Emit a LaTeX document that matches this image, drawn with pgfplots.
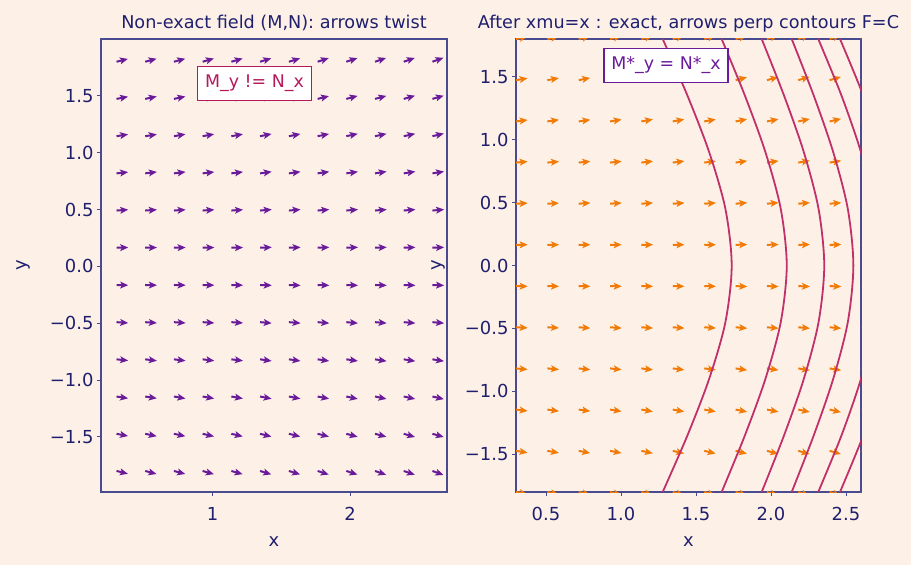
\documentclass[border=0pt]{standalone}
\usepackage{pgfplots}
\pgfplotsset{compat=1.18}
\usepackage{pgfplotstable}
\usepackage{fontspec}
\setmainfont{DejaVu Sans}
\usetikzlibrary{arrows.meta}

\definecolor{bgc}{HTML}{FDF1E7}
\definecolor{axc}{HTML}{4A4A90}
\definecolor{txc}{HTML}{1F1F6E}
\definecolor{arrL}{HTML}{6A1B9A}
\definecolor{arrR}{HTML}{F27B08}
\definecolor{cont}{HTML}{C0306A}
\definecolor{boxL}{HTML}{B5195B}
\definecolor{boxR}{HTML}{6A1B9A}

% direction field of (M,N): grid point and screen angle of the arrow (degrees)
\pgfplotstableread[row sep=\\]{
x y a\\
0.300 1.800 14\\ 0.509 1.800 15\\ 0.718 1.800 15\\ 0.927 1.800 16\\ 1.136 1.800 16\\ 1.345 1.800 17\\
1.555 1.800 17\\ 1.764 1.800 18\\ 1.973 1.800 18\\ 2.182 1.800 19\\ 2.391 1.800 19\\ 2.600 1.800 20\\
0.300 1.473 11\\ 0.509 1.473 12\\ 0.718 1.473 12\\ 0.927 1.473 13\\ 1.136 1.473 13\\ 1.345 1.473 14\\
1.555 1.473 14\\ 1.764 1.473 14\\ 1.973 1.473 15\\ 2.182 1.473 15\\ 2.391 1.473 16\\ 2.600 1.473 16\\
0.300 1.145 9\\ 0.509 1.145 9\\ 0.718 1.145 10\\ 0.927 1.145 10\\ 1.136 1.145 10\\ 1.345 1.145 11\\
1.555 1.145 11\\ 1.764 1.145 11\\ 1.973 1.145 12\\ 2.182 1.145 12\\ 2.391 1.145 12\\ 2.600 1.145 13\\
0.300 0.818 6\\ 0.509 0.818 7\\ 0.718 0.818 7\\ 0.927 0.818 7\\ 1.136 0.818 7\\ 1.345 0.818 8\\
1.555 0.818 8\\ 1.764 0.818 8\\ 1.973 0.818 8\\ 2.182 0.818 9\\ 2.391 0.818 9\\ 2.600 0.818 9\\
0.300 0.491 4\\ 0.509 0.491 4\\ 0.718 0.491 4\\ 0.927 0.491 4\\ 1.136 0.491 4\\ 1.345 0.491 5\\
1.555 0.491 5\\ 1.764 0.491 5\\ 1.973 0.491 5\\ 2.182 0.491 5\\ 2.391 0.491 5\\ 2.600 0.491 5\\
0.300 0.164 1\\ 0.509 0.164 1\\ 0.718 0.164 1\\ 0.927 0.164 1\\ 1.136 0.164 1\\ 1.345 0.164 2\\
1.555 0.164 2\\ 1.764 0.164 2\\ 1.973 0.164 2\\ 2.182 0.164 2\\ 2.391 0.164 2\\ 2.600 0.164 2\\
0.300 -0.164 -1\\ 0.509 -0.164 -1\\ 0.718 -0.164 -1\\ 0.927 -0.164 -1\\ 1.136 -0.164 -1\\ 1.345 -0.164 -2\\
1.555 -0.164 -2\\ 1.764 -0.164 -2\\ 1.973 -0.164 -2\\ 2.182 -0.164 -2\\ 2.391 -0.164 -2\\ 2.600 -0.164 -2\\
0.300 -0.491 -4\\ 0.509 -0.491 -4\\ 0.718 -0.491 -4\\ 0.927 -0.491 -4\\ 1.136 -0.491 -4\\ 1.345 -0.491 -5\\
1.555 -0.491 -5\\ 1.764 -0.491 -5\\ 1.973 -0.491 -5\\ 2.182 -0.491 -5\\ 2.391 -0.491 -5\\ 2.600 -0.491 -5\\
0.300 -0.818 -6\\ 0.509 -0.818 -7\\ 0.718 -0.818 -7\\ 0.927 -0.818 -7\\ 1.136 -0.818 -7\\ 1.345 -0.818 -8\\
1.555 -0.818 -8\\ 1.764 -0.818 -8\\ 1.973 -0.818 -8\\ 2.182 -0.818 -9\\ 2.391 -0.818 -9\\ 2.600 -0.818 -9\\
0.300 -1.145 -9\\ 0.509 -1.145 -9\\ 0.718 -1.145 -10\\ 0.927 -1.145 -10\\ 1.136 -1.145 -10\\ 1.345 -1.145 -11\\
1.555 -1.145 -11\\ 1.764 -1.145 -11\\ 1.973 -1.145 -12\\ 2.182 -1.145 -12\\ 2.391 -1.145 -12\\ 2.600 -1.145 -13\\
0.300 -1.473 -11\\ 0.509 -1.473 -12\\ 0.718 -1.473 -12\\ 0.927 -1.473 -13\\ 1.136 -1.473 -13\\ 1.345 -1.473 -14\\
1.555 -1.473 -14\\ 1.764 -1.473 -14\\ 1.973 -1.473 -15\\ 2.182 -1.473 -15\\ 2.391 -1.473 -16\\ 2.600 -1.473 -16\\
0.300 -1.800 -14\\ 0.509 -1.800 -15\\ 0.718 -1.800 -15\\ 0.927 -1.800 -16\\ 1.136 -1.800 -16\\ 1.345 -1.800 -17\\
1.555 -1.800 -17\\ 1.764 -1.800 -18\\ 1.973 -1.800 -18\\ 2.182 -1.800 -19\\ 2.391 -1.800 -19\\ 2.600 -1.800 -20\\
}\fieldMN

% direction field of (xM,xN)
\pgfplotstableread[row sep=\\]{
x y a\\
0.300 1.800 11\\ 0.509 1.800 12\\ 0.718 1.800 13\\ 0.927 1.800 14\\ 1.136 1.800 15\\ 1.345 1.800 16\\
1.555 1.800 16\\ 1.764 1.800 17\\ 1.973 1.800 18\\ 2.182 1.800 19\\ 2.391 1.800 20\\ 2.600 1.800 21\\
0.300 1.473 9\\ 0.509 1.473 10\\ 0.718 1.473 11\\ 0.927 1.473 11\\ 1.136 1.473 12\\ 1.345 1.473 13\\
1.555 1.473 13\\ 1.764 1.473 14\\ 1.973 1.473 15\\ 2.182 1.473 16\\ 2.391 1.473 16\\ 2.600 1.473 17\\
0.300 1.145 7\\ 0.509 1.145 8\\ 0.718 1.145 8\\ 0.927 1.145 9\\ 1.136 1.145 10\\ 1.345 1.145 10\\
1.555 1.145 10\\ 1.764 1.145 11\\ 1.973 1.145 11\\ 2.182 1.145 12\\ 2.391 1.145 13\\ 2.600 1.145 13\\
0.300 0.818 5\\ 0.509 0.818 5\\ 0.718 0.818 6\\ 0.927 0.818 6\\ 1.136 0.818 7\\ 1.345 0.818 7\\
1.555 0.818 7\\ 1.764 0.818 8\\ 1.973 0.818 8\\ 2.182 0.818 9\\ 2.391 0.818 9\\ 2.600 0.818 10\\
0.300 0.491 3\\ 0.509 0.491 3\\ 0.718 0.491 4\\ 0.927 0.491 4\\ 1.136 0.491 4\\ 1.345 0.491 4\\
1.555 0.491 4\\ 1.764 0.491 5\\ 1.973 0.491 5\\ 2.182 0.491 5\\ 2.391 0.491 5\\ 2.600 0.491 6\\
0.300 0.164 1\\ 0.509 0.164 1\\ 0.718 0.164 1\\ 0.927 0.164 1\\ 1.136 0.164 1\\ 1.345 0.164 1\\
1.555 0.164 1\\ 1.764 0.164 2\\ 1.973 0.164 2\\ 2.182 0.164 2\\ 2.391 0.164 2\\ 2.600 0.164 2\\
0.300 -0.164 -1\\ 0.509 -0.164 -1\\ 0.718 -0.164 -1\\ 0.927 -0.164 -1\\ 1.136 -0.164 -1\\ 1.345 -0.164 -1\\
1.555 -0.164 -1\\ 1.764 -0.164 -2\\ 1.973 -0.164 -2\\ 2.182 -0.164 -2\\ 2.391 -0.164 -2\\ 2.600 -0.164 -2\\
0.300 -0.491 -3\\ 0.509 -0.491 -3\\ 0.718 -0.491 -4\\ 0.927 -0.491 -4\\ 1.136 -0.491 -4\\ 1.345 -0.491 -4\\
1.555 -0.491 -4\\ 1.764 -0.491 -5\\ 1.973 -0.491 -5\\ 2.182 -0.491 -5\\ 2.391 -0.491 -5\\ 2.600 -0.491 -6\\
0.300 -0.818 -5\\ 0.509 -0.818 -5\\ 0.718 -0.818 -6\\ 0.927 -0.818 -6\\ 1.136 -0.818 -7\\ 1.345 -0.818 -7\\
1.555 -0.818 -7\\ 1.764 -0.818 -8\\ 1.973 -0.818 -8\\ 2.182 -0.818 -9\\ 2.391 -0.818 -9\\ 2.600 -0.818 -10\\
0.300 -1.145 -7\\ 0.509 -1.145 -8\\ 0.718 -1.145 -8\\ 0.927 -1.145 -9\\ 1.136 -1.145 -10\\ 1.345 -1.145 -10\\
1.555 -1.145 -10\\ 1.764 -1.145 -11\\ 1.973 -1.145 -11\\ 2.182 -1.145 -12\\ 2.391 -1.145 -13\\ 2.600 -1.145 -13\\
0.300 -1.473 -9\\ 0.509 -1.473 -10\\ 0.718 -1.473 -11\\ 0.927 -1.473 -11\\ 1.136 -1.473 -12\\ 1.345 -1.473 -13\\
1.555 -1.473 -13\\ 1.764 -1.473 -14\\ 1.973 -1.473 -15\\ 2.182 -1.473 -16\\ 2.391 -1.473 -16\\ 2.600 -1.473 -17\\
0.300 -1.800 -11\\ 0.509 -1.800 -12\\ 0.718 -1.800 -13\\ 0.927 -1.800 -14\\ 1.136 -1.800 -15\\ 1.345 -1.800 -16\\
1.555 -1.800 -16\\ 1.764 -1.800 -17\\ 1.973 -1.800 -18\\ 2.182 -1.800 -19\\ 2.391 -1.800 -20\\ 2.600 -1.800 -21\\
}\fieldExact

\tikzset{
  boxnote/.style={font=\fontsize{17.5}{20}\selectfont, fill=white,
    line width=1.5bp, inner xsep=7.5bp, inner ysep=8.5bp},
  dart/.style={line width=2bp,
    -{Stealth[length=8bp,width=6.8bp,inset=1.8bp]}},
}
\pgfplotsset{
  panel/.style={
    scale only axis, width=346bp, height=453bp, anchor=south west,
    axis line style={axc, line width=1.1bp},
    tick style={axc, line width=1bp}, major tick length=4bp,
    tick align=outside, tick pos=left,
    ticklabel style={font=\fontsize{18}{21}\selectfont, text=txc},
    xticklabel style={yshift=-8bp},
    /pgf/number format/assume math mode=true,
    label style={font=\fontsize{18}{21}\selectfont, text=txc},
    every axis title/.style={font=\fontsize{17.7}{21}\selectfont, text=txc,
      at={(axis description cs:0.5,1.023)}, anchor=base},
    xlabel style={at={(axis description cs:0.5,-0.11)}, anchor=center},
    ylabel style={at={(axis description cs:-0.225,0.5)}, anchor=center},
    xlabel={x}, ylabel={y},
    ytick={-1.5,-1,-0.5,0,0.5,1,1.5},
    yticklabels={−1.5,−1.0,−0.5,0.0,0.5,1.0,1.5},
    clip=true,
  },
  level/.style={cont, line width=1.8bp, smooth, no markers},
}

\begin{document}
\begin{tikzpicture}
\fill[bgc] (0,0) rectangle (911bp,565bp);
\path[use as bounding box] (0,0) rectangle (911bp,565bp);

\begin{axis}[panel, at={(101bp,73bp)},
  xmin=0.187, xmax=2.706, ymin=-1.985, ymax=2.0,
  xtick={1,2}, xticklabels={1,2},
  title={Non-exact field (M,N): arrows twist}]
\addplot[arrL, no markers, dart,
  quiver={u={0.0852*cos(\thisrow{a})}, v={0.1029*sin(\thisrow{a})}}]
  table[x=x, y=y] {\fieldMN};
\node[boxnote, draw=boxL, text=boxL] at (rel axis cs:0.4436,0.9018) {M\_y != N\_x};
\end{axis}

\begin{axis}[panel, at={(516bp,73bp)}, width=345bp,
  xmin=0.3, xmax=2.6, ymin=-1.8, ymax=1.8,
  xtick={0.5,1,1.5,2,2.5}, xticklabels={0.5,1.0,1.5,2.0,2.5},
  title={After xmu=x : exact, arrows perp contours F=C}]
\addplot[arrR, no markers, dart,
  quiver={u={0.078*cos(\thisrow{a})}, v={0.093*sin(\thisrow{a})}}]
  table[x=x, y=y] {\fieldExact};
% level curves F(x,y)=C
\addplot[level] coordinates {
  (1.278,-1.8) (1.443,-1.35) (1.588,-0.9) (1.696,-0.45) (1.738,0)
  (1.696,0.45) (1.588,0.9) (1.443,1.35) (1.278,1.8)};
\addplot[level] coordinates {
  (1.671,-1.8) (1.826,-1.35) (1.963,-0.9) (2.065,-0.45) (2.105,0)
  (2.065,0.45) (1.963,0.9) (1.826,1.35) (1.671,1.8)};
\addplot[level] coordinates {
  (1.938,-1.8) (2.087,-1.35) (2.219,-0.9) (2.317,-0.45) (2.355,0)
  (2.317,0.45) (2.219,0.9) (2.087,1.35) (1.938,1.8)};
\addplot[level] coordinates {
  (2.138,-1.8) (2.285,-1.35) (2.415,-0.9) (2.512,-0.45) (2.549,0)
  (2.512,0.45) (2.415,0.9) (2.285,1.35) (2.138,1.8)};
\addplot[level] coordinates {
  (2.315,-1.8) (2.470,-1.35) (2.600,-0.9) (2.695,-0.45) (2.730,0)
  (2.695,0.45) (2.600,0.9) (2.470,1.35) (2.315,1.8)};
\addplot[level] coordinates {
  (2.460,-1.8) (2.615,-1.35) (2.740,-0.9) (2.830,-0.45) (2.865,0)
  (2.830,0.45) (2.740,0.9) (2.615,1.35) (2.460,1.8)};
\node[boxnote, draw=boxR, text=boxR] at (rel axis cs:0.4348,0.9415) {M*\_y = N*\_x};
\end{axis}
\end{tikzpicture}
\end{document}
